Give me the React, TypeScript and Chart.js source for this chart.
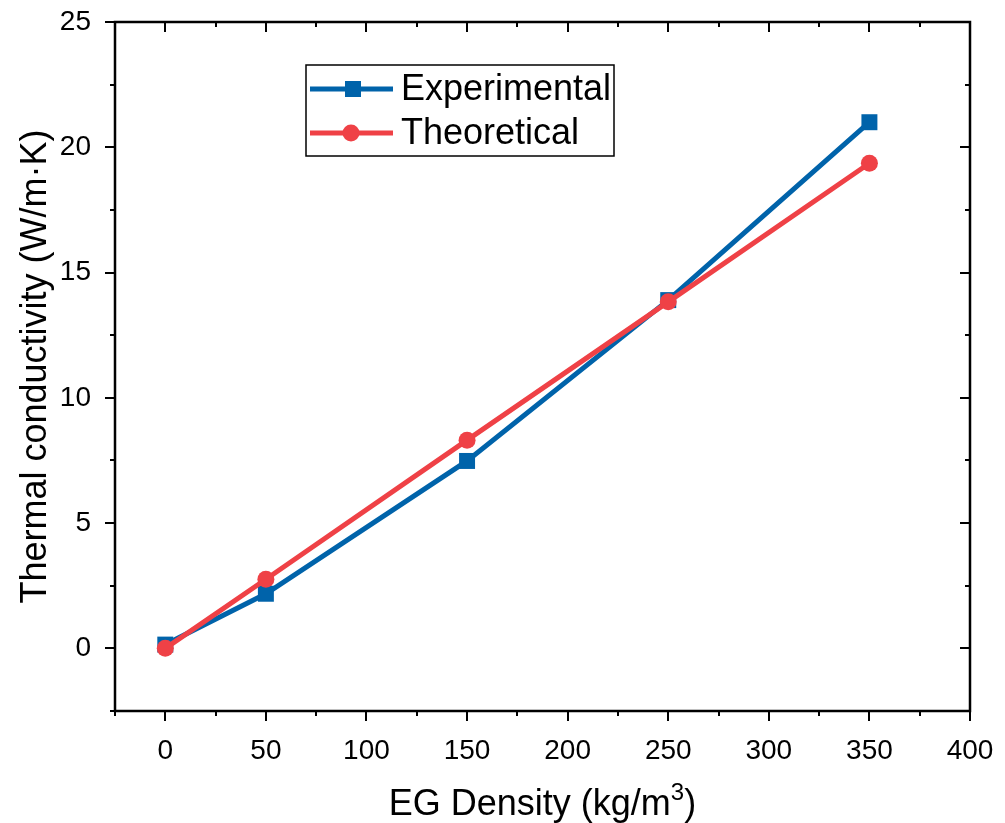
import { useEffect, useRef } from "react";
import { Chart, registerables } from "chart.js";
Chart.register(...registerables);

const xValues = [0, 50, 150, 250, 350];
const experimental = [0.15, 2.18, 7.48, 13.9, 21.0];
const theoretical = [0.0, 2.76, 8.31, 13.83, 19.36];
const xMajorTicks = [0, 50, 100, 150, 200, 250, 300, 350, 400];
const xMinorTicks = [-25, 25, 75, 125, 175, 225, 275, 325, 375];
const yMajorTicks = [0, 5, 10, 15, 20, 25];
const yMinorTicks = [-2.5, 2.5, 7.5, 12.5, 17.5, 22.5];
const seriesNames = ["Experimental", "Theoretical"];
const xTitle = "EG Density (kg/m";
const xTitleSup = "3";
const yTitle = "Thermal conductivity (W/m·K)";

const BLUE = "#0063AA";
const RED = "#EF4146";
const FONT = "'Liberation Sans', Arial, sans-serif";

const decorPlugin = {
  id: "decor",
  afterDraw(chart: any) {
    const ctx = chart.ctx as CanvasRenderingContext2D;
    const { left, right, top, bottom } = chart.chartArea;
    const xs = chart.scales.x;
    const ys = chart.scales.y;
    ctx.save();
    ctx.strokeStyle = "#000";
    ctx.lineWidth = 2.5;
    ctx.lineCap = "butt";
    // frame
    ctx.beginPath();
    ctx.rect(left, top, right - left, bottom - top);
    ctx.stroke();
    const major = 10;
    const minor = 5;
    ctx.lineWidth = 2;
    ctx.beginPath();
    for (const v of xMajorTicks) {
      const px = Math.round(xs.getPixelForValue(v));
      ctx.moveTo(px, bottom); ctx.lineTo(px, bottom + major);
      ctx.moveTo(px, top); ctx.lineTo(px, top + major);
    }
    for (const v of xMinorTicks) {
      const px = Math.round(xs.getPixelForValue(v));
      ctx.moveTo(px, bottom); ctx.lineTo(px, bottom + minor);
      ctx.moveTo(px, top); ctx.lineTo(px, top + minor);
    }
    for (const v of yMajorTicks) {
      const py = Math.round(ys.getPixelForValue(v));
      ctx.moveTo(left, py); ctx.lineTo(left - major, py);
      ctx.moveTo(right, py); ctx.lineTo(right - major, py);
    }
    for (const v of yMinorTicks) {
      const py = Math.round(ys.getPixelForValue(v));
      ctx.moveTo(left, py); ctx.lineTo(left - minor, py);
      ctx.moveTo(right, py); ctx.lineTo(right - minor, py);
    }
    ctx.stroke();

    // tick labels
    ctx.fillStyle = "#000";
    ctx.font = `28px ${FONT}`;
    ctx.textAlign = "center";
    ctx.textBaseline = "alphabetic";
    for (const v of xMajorTicks) {
      ctx.fillText(String(v), xs.getPixelForValue(v), bottom + 48);
    }
    ctx.textAlign = "right";
    ctx.textBaseline = "middle";
    for (const v of yMajorTicks) {
      ctx.fillText(String(v), left - 24, ys.getPixelForValue(v));
    }

    // x title
    const big = `36px ${FONT}`;
    const small = `24px ${FONT}`;
    ctx.font = big;
    ctx.textBaseline = "alphabetic";
    ctx.textAlign = "left";
    const w1 = ctx.measureText(xTitle).width;
    ctx.font = small;
    const w2 = ctx.measureText(xTitleSup).width;
    ctx.font = big;
    const w3 = ctx.measureText(")").width;
    const total = w1 + w2 + w3;
    const cx = (left + right) / 2;
    let tx = cx - total / 2;
    const baseY = 815;
    ctx.fillText(xTitle, tx, baseY);
    tx += w1;
    ctx.font = small;
    ctx.fillText(xTitleSup, tx, baseY - 15);
    tx += w2;
    ctx.font = big;
    ctx.fillText(")", tx, baseY);

    // y title
    ctx.save();
    ctx.translate(46, (top + bottom) / 2);
    ctx.rotate(-Math.PI / 2);
    ctx.textAlign = "center";
    ctx.textBaseline = "alphabetic";
    ctx.font = big;
    ctx.fillText(yTitle, 0, 0);
    ctx.restore();

    // legend
    const lx = 306, ly = 65, lw = 308, lh = 91;
    ctx.lineWidth = 1.5;
    ctx.strokeStyle = "#000";
    ctx.strokeRect(lx, ly, lw, lh);
    const rows = [ly + 24, ly + 68];
    const colors = [BLUE, RED];
    for (let i = 0; i < 2; i++) {
      const y = rows[i];
      ctx.strokeStyle = colors[i];
      ctx.lineWidth = 5;
      ctx.beginPath();
      ctx.moveTo(310, y); ctx.lineTo(393, y);
      ctx.stroke();
      ctx.fillStyle = colors[i];
      if (i === 0) {
        ctx.fillRect(353 - 8, y - 8, 16, 16);
      } else {
        ctx.beginPath();
        ctx.arc(351, y, 8.5, 0, Math.PI * 2);
        ctx.fill();
      }
      ctx.fillStyle = "#000";
      ctx.font = big;
      ctx.textAlign = "left";
      ctx.textBaseline = "middle";
      ctx.fillText(seriesNames[i], 401, y + 1);
    }
    ctx.restore();
  },
};

export default function App() {
  const ref = useRef<HTMLCanvasElement | null>(null);
  useEffect(() => {
    if (!ref.current) return;
    const chart = new Chart(ref.current, {
      type: "line",
      data: {
        datasets: [
          {
            label: seriesNames[0],
            data: xValues.map((x, i) => ({ x, y: experimental[i] })),
            borderColor: BLUE,
            backgroundColor: BLUE,
            borderWidth: 5,
            pointStyle: "rect",
            pointRadius: 11.3,
            pointBorderWidth: 0,
            order: 2,
          },
          {
            label: seriesNames[1],
            data: xValues.map((x, i) => ({ x, y: theoretical[i] })),
            borderColor: RED,
            backgroundColor: RED,
            borderWidth: 5,
            pointStyle: "circle",
            pointRadius: 8.5,
            pointBorderWidth: 0,
            order: 1,
          },
        ],
      },
      options: {
        animation: false,
        responsive: false,
        maintainAspectRatio: false,
        devicePixelRatio: 1,
        layout: { padding: { left: 115, right: 35, top: 22, bottom: 112 } },
        plugins: { legend: { display: false }, tooltip: { enabled: false } },
        scales: {
          x: {
            type: "linear",
            min: -25,
            max: 400,
            grid: { display: false },
            border: { display: false },
            ticks: { display: false },
            afterFit: (s: any) => { s.height = 0; },
          },
          y: {
            type: "linear",
            min: -2.5,
            max: 25,
            grid: { display: false },
            border: { display: false },
            ticks: { display: false },
            afterFit: (s: any) => { s.width = 0; },
          },
        },
      },
      plugins: [decorPlugin],
    });
    return () => chart.destroy();
  }, []);
  return (
    <div style={{ position: "absolute", left: 0, top: 0, width: 1005, height: 823, background: "#fff" }}>
      <canvas ref={ref} width={1005} height={823} style={{ width: 1005, height: 823 }} />
    </div>
  );
}
